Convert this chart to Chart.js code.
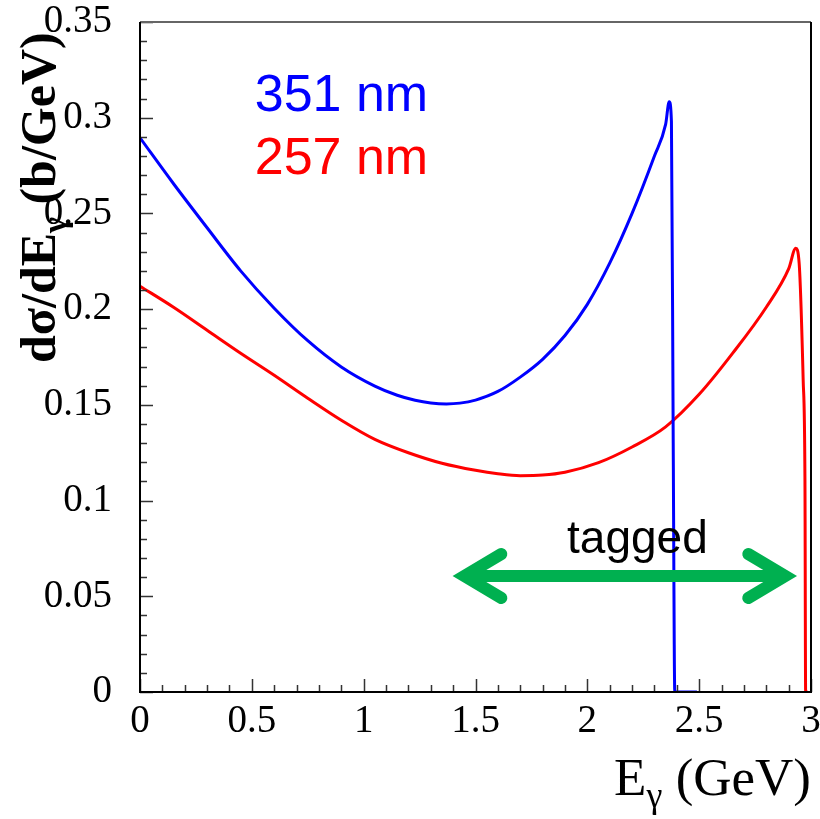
<!DOCTYPE html>
<html>
<head>
<meta charset="utf-8">
<script src="https://cdn.jsdelivr.net/npm/chart.js@4.4.1/dist/chart.umd.min.js"></script>
<style>
  html, body { margin: 0; padding: 0; background: #fff; }
  canvas { display: block; }
</style>
</head>
<body>
<canvas id="sigmaChart" width="820" height="819"></canvas>
<script>
(function () {
  'use strict';

  // photon energy (GeV) and d(sigma)/dE (b/GeV), 351 nm laser
  const blueE     = [0, 0.15, 0.3, 0.45, 0.6, 0.75, 0.9, 1.05, 1.15, 1.23, 1.3, 1.37, 1.43, 1.5, 1.6, 1.7, 1.8, 1.9, 2.0, 2.1, 2.2, 2.3, 2.35, 2.366, 2.376, 2.384, 2.391, 2.49];
  const blueSigma = [0.2895, 0.2655, 0.2425, 0.2200, 0.2005, 0.1835, 0.1698, 0.1598, 0.1550, 0.1524, 0.1510, 0.1505, 0.1509, 0.1525, 0.1570, 0.1645, 0.1738, 0.1862, 0.2025, 0.2240, 0.2500, 0.2800, 0.2965, 0.3084, 0.2980, 0.1300, 0, 0];

  // 257 nm laser
  const redE     = [0, 0.15, 0.3, 0.45, 0.6, 0.75, 0.9, 1.05, 1.2, 1.35, 1.5, 1.6, 1.7, 1.8, 1.9, 2.05, 2.2, 2.35, 2.5, 2.65, 2.8, 2.9, 2.932, 2.947, 2.965, 2.973, 2.976, 2.985];
  const redSigma = [0.2120, 0.2010, 0.1890, 0.1770, 0.1655, 0.1535, 0.1420, 0.1320, 0.1250, 0.1195, 0.1158, 0.1140, 0.1130, 0.1133, 0.1148, 0.1198, 0.1280, 0.1385, 0.1555, 0.1770, 0.2010, 0.2210, 0.2318, 0.2240, 0.1630, 0.1100, 0, 0];

  const seriesNames  = ['351 nm', '257 nm'];
  const seriesColors = ['#0000ff', '#ff0000'];

  const xTicks      = [0, 0.5, 1, 1.5, 2, 2.5, 3];
  const xTickLabels = ['0', '0.5', '1', '1.5', '2', '2.5', '3'];
  const yTicks      = [0, 0.05, 0.1, 0.15, 0.2, 0.25, 0.3, 0.35];
  const yTickLabels = ['0', '0.05', '0.1', '0.15', '0.2', '0.25', '0.3', '0.35'];

  // tagged range arrow (GeV) and its height (b/GeV)
  const taggedRange = [1.45, 2.885];
  const taggedLevel = 0.0606;

  const serif = '"Liberation Serif", "Times New Roman", serif';
  const sans  = '"Liberation Sans", Arial, sans-serif';

  const toPoints = (xs, ys) => xs.map((x, i) => ({ x: x, y: ys[i] }));

  // inward tick marks + frame, like the ROOT style
  const framePlugin = {
    id: 'frame',
    afterDatasetsDraw(ci) {
      const { ctx, chartArea: a, scales: { x, y } } = ci;
      ctx.save();
      ctx.strokeStyle = '#333';
      ctx.lineWidth = 1.5;
      ctx.beginPath();
      for (let k = 0; k <= 35; k++) {
        const py = Math.round(y.getPixelForValue(k / 100)) + 0.5;
        const len = (k % 5 === 0) ? 13 : 7;
        ctx.moveTo(a.left, py);
        ctx.lineTo(a.left + len, py);
      }
      for (let k = 0; k <= 30; k++) {
        const px = Math.round(x.getPixelForValue(k / 10)) + 0.5;
        const len = (k % 5 === 0) ? 13 : 7;
        ctx.moveTo(px, a.bottom);
        ctx.lineTo(px, a.bottom - len);
      }
      ctx.stroke();

      ctx.lineWidth = 2;
      ctx.strokeStyle = '#666';
      ctx.beginPath();
      ctx.moveTo(a.left, a.top);
      ctx.lineTo(a.right, a.top);
      ctx.stroke();
      ctx.strokeStyle = '#000';
      ctx.beginPath();
      ctx.moveTo(a.right, a.top);
      ctx.lineTo(a.right, a.bottom);
      ctx.lineTo(a.left, a.bottom);
      ctx.lineTo(a.left, a.top);
      ctx.stroke();
      ctx.restore();
    }
  };

  const notesPlugin = {
    id: 'notes',
    afterDraw(ci) {
      const { ctx, scales: { x, y } } = ci;
      ctx.save();

      // series names
      ctx.font = '52px ' + sans;
      ctx.textAlign = 'left';
      ctx.textBaseline = 'alphabetic';
      ctx.fillStyle = seriesColors[0];
      ctx.fillText(seriesNames[0], x.getPixelForValue(0.513), y.getPixelForValue(0.3035));
      ctx.fillStyle = seriesColors[1];
      ctx.fillText(seriesNames[1], x.getPixelForValue(0.513), y.getPixelForValue(0.2705));

      // tagged arrow
      const x1 = x.getPixelForValue(taggedRange[0]);
      const x2 = x.getPixelForValue(taggedRange[1]);
      const py = y.getPixelForValue(taggedLevel);
      ctx.strokeStyle = '#00b050';
      ctx.lineWidth = 12;
      ctx.lineJoin = 'miter';
      ctx.lineCap = 'round';
      ctx.beginPath();
      ctx.moveTo(x1 + 37, py - 22);
      ctx.lineTo(x1, py);
      ctx.lineTo(x1 + 37, py + 22);
      ctx.moveTo(x2 - 37, py - 22);
      ctx.lineTo(x2, py);
      ctx.lineTo(x2 - 37, py + 22);
      ctx.stroke();
      ctx.lineCap = 'butt';
      ctx.beginPath();
      ctx.moveTo(x1, py);
      ctx.lineTo(x2, py);
      ctx.stroke();

      ctx.fillStyle = '#000';
      ctx.font = '46px ' + sans;
      ctx.textAlign = 'center';
      ctx.fillText('tagged', x.getPixelForValue(2.224), y.getPixelForValue(0.0726));

      // y axis title, rotated
      ctx.save();
      ctx.translate(55, 363);
      ctx.rotate(-Math.PI / 2);
      ctx.textAlign = 'left';
      let tx = 0;
      ctx.font = 'bold 50px ' + serif;
      ctx.fillText('dσ/dE', tx, 0);
      tx += ctx.measureText('dσ/dE').width;
      ctx.font = 'bold 34px ' + serif;
      ctx.fillText('γ', tx, 11);
      tx += ctx.measureText('γ').width;
      ctx.font = 'bold 50px ' + serif;
      ctx.fillText(' (b/GeV)', tx, 0);
      ctx.restore();

      // x axis title, right aligned to the frame
      ctx.textAlign = 'left';
      const big = '53px ' + serif, small = '36px ' + serif;
      ctx.font = big;
      const wE = ctx.measureText('E').width;
      const wT = ctx.measureText(' (GeV)').width;
      ctx.font = small;
      const wG = ctx.measureText('γ').width;
      const sx = ci.chartArea.right - (wE + wG + wT);
      const by = 795;
      ctx.font = big;
      ctx.fillText('E', sx, by);
      ctx.font = small;
      ctx.fillText('γ', sx + wE, by + 12);
      ctx.font = big;
      ctx.fillText(' (GeV)', sx + wE + wG, by);

      ctx.restore();
    }
  };

  const lineStyle = { borderWidth: 3, pointRadius: 0, cubicInterpolationMode: 'monotone', fill: false };

  new Chart(document.getElementById('sigmaChart').getContext('2d'), {
    type: 'line',
    data: {
      datasets: [
        Object.assign({ label: seriesNames[0], data: toPoints(blueE, blueSigma), borderColor: seriesColors[0] }, lineStyle),
        Object.assign({ label: seriesNames[1], data: toPoints(redE, redSigma), borderColor: seriesColors[1] }, lineStyle)
      ]
    },
    options: {
      responsive: false,
      animation: false,
      layout: { padding: { top: 22, right: 9, left: 0, bottom: 0 } },
      scales: {
        x: {
          type: 'linear',
          min: 0,
          max: 3,
          afterBuildTicks: s => { s.ticks = xTicks.map(v => ({ value: v })); },
          afterFit: s => { s.height = 127; s.paddingLeft = 0; s.paddingRight = 0; },
          ticks: {
            callback: (v, i) => xTickLabels[i],
            font: { family: serif, size: 39, lineHeight: 1 },
            color: '#000',
            padding: 2,
            maxRotation: 0,
            autoSkip: false
          },
          grid: { display: false },
          border: { display: false }
        },
        y: {
          type: 'linear',
          min: 0,
          max: 0.35,
          afterBuildTicks: s => { s.ticks = yTicks.map(v => ({ value: v })); },
          afterFit: s => { s.width = 140; s.paddingTop = 0; s.paddingBottom = 0; },
          ticks: {
            callback: (v, i) => yTickLabels[i],
            font: { family: serif, size: 39, lineHeight: 1 },
            color: '#000',
            padding: 20,
            autoSkip: false
          },
          grid: { display: false },
          border: { display: false }
        }
      },
      plugins: { legend: { display: false }, tooltip: { enabled: false } }
    },
    plugins: [framePlugin, notesPlugin]
  });
})();
</script>
</body>
</html>
